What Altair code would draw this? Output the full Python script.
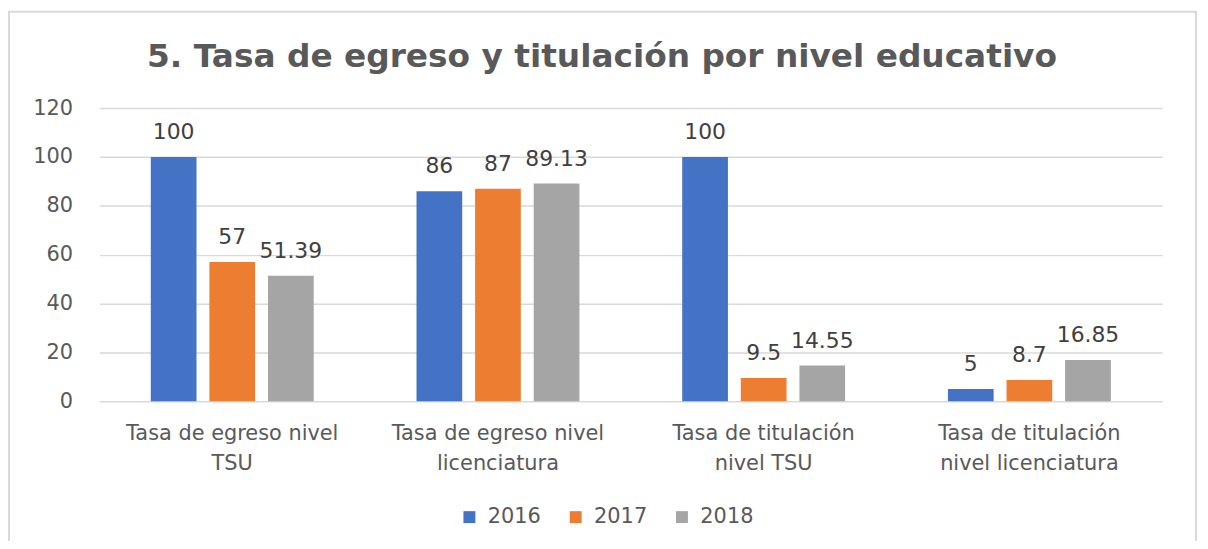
import altair as alt
import pandas as pd

categories = [
    "Tasa de egreso nivel\nTSU",
    "Tasa de egreso nivel\nlicenciatura",
    "Tasa de titulación\nnivel TSU",
    "Tasa de titulación\nnivel licenciatura",
]
years = ["2016", "2017", "2018"]
v2016 = [100, 86, 100, 5]
v2017 = [57, 87, 9.5, 8.7]
v2018 = [51.39, 89.13, 14.55, 16.85]
colors = ["#4472C4", "#ED7D31", "#A5A5A5"]
title_text = "5. Tasa de egreso y titulación por nivel educativo"

rows = []
for yr, vals in zip(years, [v2016, v2017, v2018]):
    for c, v in zip(categories, vals):
        rows.append({"categoria": c, "anio": yr, "valor": v})
df = pd.DataFrame(rows)

FONT = "DejaVu Sans"
GRAY = "#595959"

x_enc = alt.X(
    "categoria:N",
    sort=categories,
    scale=alt.Scale(paddingInner=0, paddingOuter=0),
    axis=alt.Axis(
        title=None,
        labelAngle=0,
        labelFont=FONT,
        labelFontSize=21,
        labelColor=GRAY,
        labelLineHeight=30,
        labelPadding=22,
        labelLimit=400,
        labelExpr="split(datum.label, '\\n')",
        domain=False,
        ticks=False,
        grid=False,
    ),
)
xoff_enc = alt.XOffset(
    "anio:N", sort=years, scale=alt.Scale(paddingInner=0.22, paddingOuter=0.877)
)
y_enc = alt.Y(
    "valor:Q",
    scale=alt.Scale(domain=[0, 120], nice=False),
    axis=alt.Axis(
        title=None,
        values=[0, 20, 40, 60, 80, 100, 120],
        labelFont=FONT,
        labelFontSize=21,
        labelColor=GRAY,
        labelPadding=27,
        tickSize=0,
        ticks=False,
        domain=False,
        grid=True,
        gridColor="#D9D9D9",
        gridWidth=1.5,
    ),
)
color_enc = alt.Color(
    "anio:N",
    sort=years,
    scale=alt.Scale(domain=years, range=colors),
    legend=alt.Legend(
        title=None,
        orient="none",
        direction="horizontal",
        legendX=362,
        legendY=401,
        symbolType="square",
        symbolSize=144,
        symbolStrokeWidth=0,
        labelFont=FONT,
        labelFontSize=21,
        labelColor=GRAY,
        labelOffset=8,
        columnPadding=24,
    ),
)

base = alt.Chart(df)
bars = base.mark_bar().encode(x=x_enc, xOffset=xoff_enc, y=y_enc, color=color_enc)
labels = base.mark_text(
    font=FONT, fontSize=22, color="#404040", baseline="alphabetic", dy=-18
).encode(
    x=x_enc,
    xOffset=xoff_enc,
    y=y_enc,
    text=alt.Text("valor:Q", format="~g"),
)
border = alt.Chart(alt.Data(values=[{"a": 1}])).mark_rect(
    fill=None, stroke="#D9D9D9", strokeWidth=2
).encode(
    x=alt.value(-91), x2=alt.value(1104), y=alt.value(-97), y2=alt.value(500)
)
title = alt.Chart(alt.Data(values=[{"t": title_text}])).mark_text(
    font=FONT, fontSize=33, fontWeight="bold", color=GRAY,
    align="center", baseline="alphabetic",
).encode(
    text="t:N", x=alt.value(506), y=alt.value(-41)
)

chart = (
    alt.layer(border, bars, labels, title)
    .properties(
        width=1070,
        height=295,
        autosize=alt.AutoSizeParams(type="none"),
        padding={"left": 92, "top": 99, "right": 38, "bottom": 139},
    )
    .configure_view(stroke=None)
)

chart.save("out.html", embed_options={"renderer": "svg", "actions": False})
